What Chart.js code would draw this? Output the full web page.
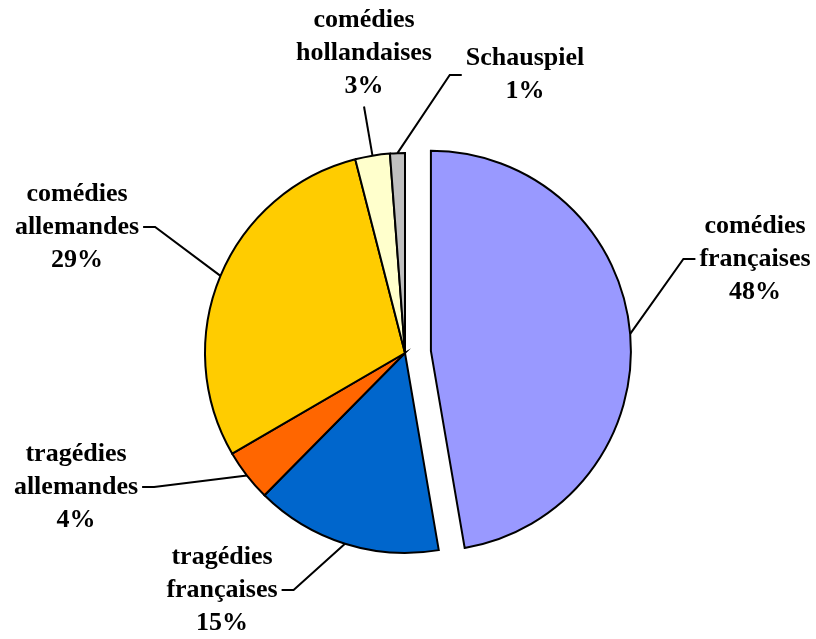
<!DOCTYPE html>
<html>
<head>
<meta charset="utf-8">
<script src="https://cdn.jsdelivr.net/npm/chart.js@4.4.1/dist/chart.umd.min.js"></script>
<style>
  html, body { margin: 0; padding: 0; background: #fff; }
  canvas { display: block; }
</style>
</head>
<body>
<canvas id="pieChart" width="816" height="639"></canvas>
<script>
// Repertoire share by genre
const categories = ["comédies françaises", "tragédies françaises", "tragédies allemandes",
                    "comédies allemandes", "comédies hollandaises", "Schauspiel"];
const values = [47.3, 15.1, 4.2, 29.4, 2.8, 1.2];
const percentLabels = ["48%", "15%", "4%", "29%", "3%", "1%"];
const colors = ["#9999FF", "#0066CC", "#FF6600", "#FFCC00", "#FFFFCC", "#C0C0C0"];

// styling / layout: slice pull-out and label block centres relative to pie centre
const explode = [26, 0, 0, 0, 0, 0];
const labelOffsets = [[350, -94], [-183, 237], [-329, 134], [-328, -126], [-41, -300], [120, -278]];
const lineH = 33;

// pull slices out along their middle angle
const explodePlugin = {
    id: 'explode',
    afterDatasetUpdate(chart, args) {
        args.meta.data.forEach((arc, i) => {
            if (!explode[i]) return;
            const mid = (arc.startAngle + arc.endAngle) / 2;
            arc.x += Math.cos(mid) * explode[i];
            arc.y += Math.sin(mid) * explode[i];
        });
    }
};

// Excel-style labels with leader lines
const pieLabels = {
    id: 'pieLabels',
    afterDatasetsDraw(chart) {
        const ctx = chart.ctx;
        const meta = chart.getDatasetMeta(0);
        const cx = (chart.chartArea.left + chart.chartArea.right) / 2;
        const cy = (chart.chartArea.top + chart.chartArea.bottom) / 2;

        ctx.save();
        ctx.font = 'bold 26px "Liberation Serif", "Times New Roman", serif';
        ctx.fillStyle = '#000';
        ctx.strokeStyle = '#000';
        ctx.lineWidth = 2;
        ctx.textAlign = 'center';
        ctx.textBaseline = 'middle';

        meta.data.forEach((arc, i) => {
            const lines = categories[i].split(' ');
            lines.push(percentLabels[i]);
            const lx = cx + labelOffsets[i][0];
            const ly = cy + labelOffsets[i][1];
            const w = Math.max(...lines.map(s => ctx.measureText(s).width));
            const h = lines.length * lineH;

            const mid = (arc.startAngle + arc.endAngle) / 2;
            const sx = arc.x + Math.cos(mid) * arc.outerRadius;
            const sy = arc.y + Math.sin(mid) * arc.outerRadius;

            ctx.beginPath();
            ctx.moveTo(sx, sy);
            if (sx < lx - w / 2) {
                const ex = lx - w / 2 - 4;
                ctx.lineTo(ex - 12, ly);
                ctx.lineTo(ex, ly);
            } else if (sx > lx + w / 2) {
                const ex = lx + w / 2 + 4;
                ctx.lineTo(ex + 12, ly);
                ctx.lineTo(ex, ly);
            } else {
                ctx.lineTo(lx, sy > ly ? ly + h / 2 + 4 : ly - h / 2 - 4);
            }
            ctx.stroke();

            lines.forEach((s, k) => {
                ctx.fillText(s, lx, ly + (k - (lines.length - 1) / 2) * lineH);
            });
        });
        ctx.restore();
    }
};

new Chart(document.getElementById('pieChart').getContext('2d'), {
    type: 'pie',
    data: {
        labels: categories,
        datasets: [{
            data: values,
            backgroundColor: colors,
            borderColor: '#000',
            borderWidth: 2,
            borderJoinStyle: 'miter'
        }]
    },
    options: {
        responsive: false,
        animation: false,
        events: [],
        radius: 200,
        layout: { padding: { left: 150, right: 156, top: 100, bottom: 33 } },
        plugins: {
            legend: { display: false },
            tooltip: { enabled: false }
        }
    },
    plugins: [explodePlugin, pieLabels]
});
</script>
</body>
</html>
